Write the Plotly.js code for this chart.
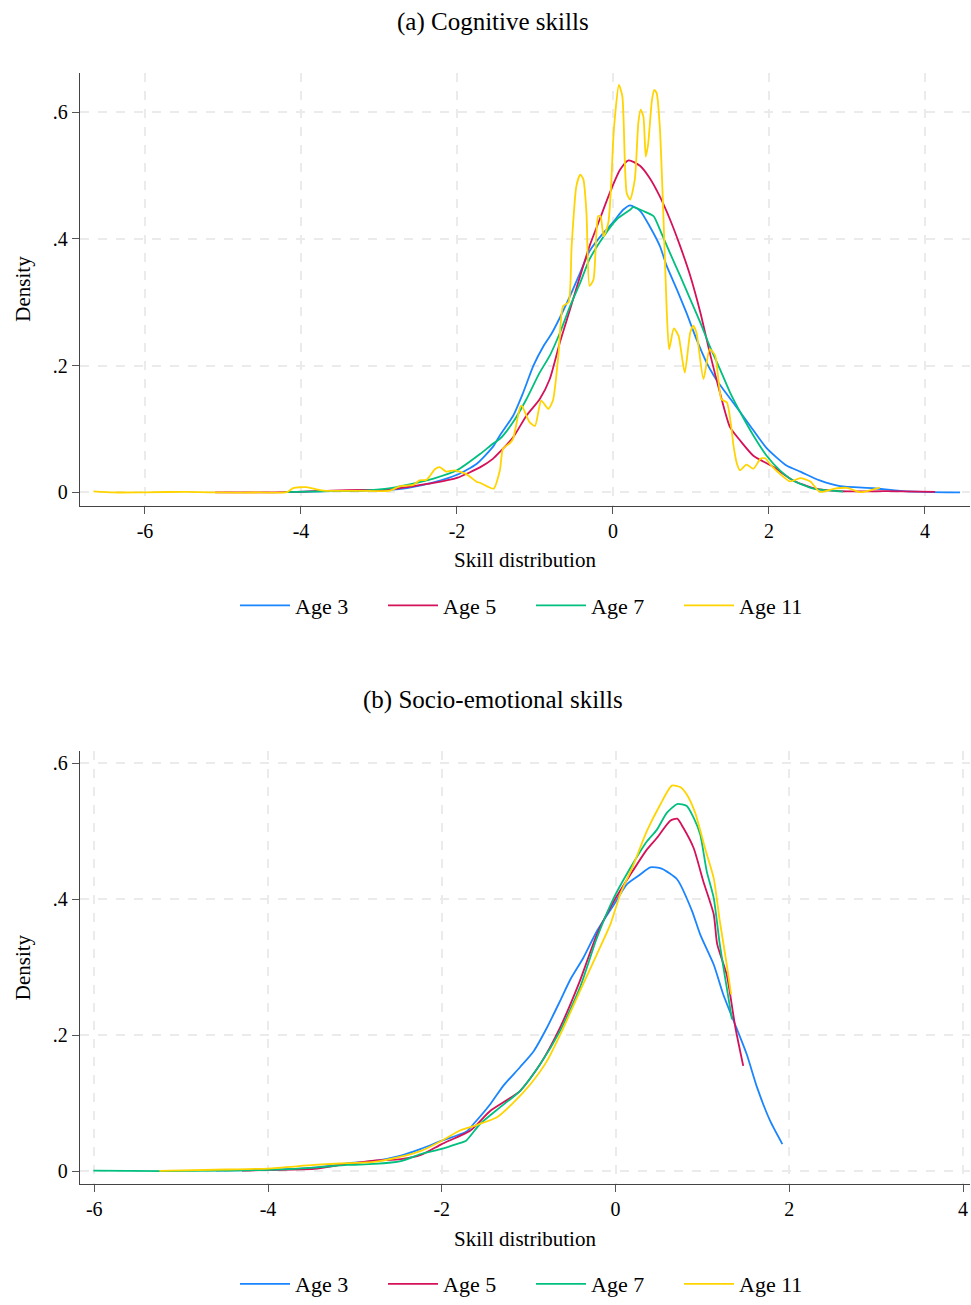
<!DOCTYPE html>
<html>
<head>
<meta charset="utf-8">
<script src="https://cdn.plot.ly/plotly-3.0.1.min.js"></script>
<style>
  html, body { margin: 0; padding: 0; background: #ffffff; }
  #chart { width: 971px; height: 1305px; }
</style>
</head>
<body>
<div id="chart"></div>
<script>
// Kernel density estimates of skill scores by age

const seriesNames = ['Age 3', 'Age 5', 'Age 7', 'Age 11'];
const seriesColors = ['#1a85ff', '#d41159', '#00bf7f', '#ffd400'];

// (a) Cognitive skills
const cogX3 = [-4.2, -3.6, -3.2, -2.86, -2.64, -2.3, -2.0, -1.75, -1.54, -1.45, -1.28, -1.15, -1.02, -0.89, -0.79, -0.68, -0.55, -0.42, -0.3, -0.12, 0.0, 0.13, 0.22, 0.35, 0.47, 0.6, 0.69, 0.82, 0.94, 1.07, 1.2, 1.29, 1.37, 1.54, 1.63, 1.76, 1.97, 2.23, 2.4, 2.65, 2.91, 3.34, 3.68, 4.1, 4.45];
const cogY3 = [0.0005, 0.002, 0.003, 0.004, 0.007, 0.016, 0.028, 0.045, 0.072, 0.09, 0.121, 0.158, 0.2, 0.231, 0.25, 0.276, 0.31, 0.347, 0.381, 0.41, 0.426, 0.446, 0.453, 0.444, 0.42, 0.389, 0.357, 0.32, 0.284, 0.242, 0.205, 0.185, 0.17, 0.142, 0.127, 0.105, 0.07, 0.042, 0.033, 0.019, 0.01, 0.0067, 0.0025, 0.0005, 0.0002];

const cogX5 = [-5.1, -4.2, -3.6, -3.2, -2.9, -2.64, -2.3, -2.0, -1.7, -1.54, -1.45, -1.28, -1.11, -0.94, -0.81, -0.68, -0.55, -0.42, -0.3, -0.17, -0.04, 0.09, 0.2, 0.35, 0.47, 0.6, 0.73, 0.86, 0.99, 1.12, 1.24, 1.37, 1.5, 1.63, 1.8, 2.06, 2.31, 2.57, 2.91, 3.5, 4.13];
const cogY5 = [0.0, 0.0005, 0.003, 0.004, 0.004, 0.0085, 0.015, 0.023, 0.04, 0.053, 0.064, 0.087, 0.121, 0.147, 0.179, 0.237, 0.289, 0.342, 0.389, 0.431, 0.473, 0.509, 0.524, 0.515, 0.496, 0.467, 0.431, 0.389, 0.342, 0.284, 0.221, 0.158, 0.103, 0.082, 0.058, 0.04, 0.019, 0.0067, 0.002, 0.002, 0.001];

const cogX7 = [-4.2, -3.6, -3.2, -2.9, -2.64, -2.3, -2.0, -1.7, -1.54, -1.45, -1.28, -1.11, -0.94, -0.81, -0.68, -0.55, -0.42, -0.3, -0.12, 0.05, 0.22, 0.26, 0.39, 0.52, 0.6, 0.73, 0.86, 0.99, 1.12, 1.24, 1.37, 1.5, 1.63, 1.8, 1.97, 2.14, 2.31, 2.57, 2.95];
const cogY7 = [0.0005, 0.002, 0.003, 0.006, 0.012, 0.022, 0.035, 0.061, 0.077, 0.0845, 0.111, 0.147, 0.189, 0.216, 0.252, 0.294, 0.331, 0.368, 0.404, 0.431, 0.446, 0.45, 0.444, 0.436, 0.415, 0.378, 0.342, 0.305, 0.268, 0.231, 0.195, 0.158, 0.127, 0.09, 0.058, 0.035, 0.019, 0.006, 0.0015];

const cogX11 = [-6.66, -6.4, -6.0, -5.46, -5.12, -4.53, -4.18, -4.1, -3.93, -3.8, -3.71, -3.24, -2.86, -2.73, -2.56, -2.48, -2.39, -2.28, -2.22, -2.14, -2.03, -1.88, -1.75, -1.7, -1.62, -1.53, -1.45, -1.41, -1.32, -1.28, -1.19, -1.17, -1.07, -1.0, -0.92, -0.83, -0.77, -0.7, -0.64, -0.57, -0.53, -0.47, -0.42, -0.38, -0.34, -0.3, -0.25, -0.19, -0.16, -0.12, -0.06, -0.02, 0.0, 0.03, 0.075, 0.12, 0.175, 0.22, 0.28, 0.325, 0.355, 0.39, 0.42, 0.45, 0.5, 0.53, 0.56, 0.6, 0.645, 0.69, 0.72, 0.78, 0.84, 0.92, 0.99, 1.03, 1.07, 1.16, 1.24, 1.31, 1.39, 1.46, 1.52, 1.545, 1.59, 1.63, 1.71, 1.8, 1.89, 1.95, 2.03, 2.14, 2.27, 2.4, 2.53, 2.65, 2.83, 3.0, 3.17, 3.42];
const cogY11 = [0.0016, 0.0, 0.0003, 0.001, 0.0, 0.0, 0.0005, 0.007, 0.0085, 0.005, 0.003, 0.0025, 0.003, 0.01, 0.012, 0.019, 0.02, 0.037, 0.04, 0.033, 0.035, 0.029, 0.017, 0.015, 0.01, 0.006, 0.035, 0.069, 0.078, 0.085, 0.135, 0.137, 0.111, 0.105, 0.145, 0.132, 0.145, 0.216, 0.294, 0.3, 0.389, 0.483, 0.5015, 0.494, 0.441, 0.326, 0.336, 0.436, 0.436, 0.404, 0.4255, 0.494, 0.55, 0.599, 0.643, 0.625, 0.473, 0.462, 0.494, 0.583, 0.604, 0.593, 0.53, 0.549, 0.6195, 0.635, 0.63, 0.5775, 0.441, 0.284, 0.226, 0.259, 0.247, 0.189, 0.252, 0.263, 0.252, 0.179, 0.226, 0.216, 0.147, 0.142, 0.1, 0.074, 0.045, 0.035, 0.044, 0.0375, 0.053, 0.054, 0.0425, 0.0295, 0.0174, 0.0226, 0.0174, 0.001, 0.0057, 0.0073, 0.0005, 0.0078];

// (b) Socio-emotional skills
const socX3 = [-4.6, -4.0, -3.47, -3.09, -2.78, -2.47, -2.24, -2.0, -1.72, -1.635, -1.44, -1.29, -1.1, -0.94, -0.79, -0.64, -0.52, -0.37, -0.215, -0.02, 0.13, 0.28, 0.4, 0.53, 0.71, 0.88, 0.975, 1.13, 1.24, 1.36, 1.51, 1.63, 1.78, 1.92];
const socY3 = [0.001, 0.002, 0.0054, 0.0117, 0.015, 0.023, 0.033, 0.045, 0.058, 0.0695, 0.099, 0.126, 0.153, 0.177, 0.211, 0.25, 0.282, 0.314, 0.353, 0.392, 0.422, 0.436, 0.447, 0.445, 0.429, 0.383, 0.348, 0.304, 0.26, 0.221, 0.172, 0.123, 0.074, 0.04];

const socX5 = [-4.3, -4.0, -3.47, -3.09, -2.78, -2.47, -2.24, -2.0, -1.67, -1.44, -1.1, -0.87, -0.64, -0.41, -0.215, -0.02, 0.17, 0.36, 0.475, 0.63, 0.71, 0.78, 0.9, 1.01, 1.13, 1.17, 1.28, 1.38, 1.47];
const socY5 = [0.001, 0.002, 0.0034, 0.0108, 0.0157, 0.018, 0.024, 0.04, 0.06, 0.089, 0.118, 0.157, 0.211, 0.28, 0.348, 0.397, 0.436, 0.473, 0.49, 0.5155, 0.5185, 0.505, 0.475, 0.4265, 0.378, 0.334, 0.289, 0.211, 0.155];

const socX7 = [-6.01, -5.2, -4.5, -4.0, -3.47, -3.09, -2.78, -2.47, -2.24, -2.0, -1.83, -1.72, -1.56, -1.33, -1.1, -0.87, -0.64, -0.41, -0.215, -0.02, 0.17, 0.36, 0.475, 0.59, 0.71, 0.82, 0.9, 0.975, 1.05, 1.13, 1.2, 1.28, 1.34];
const socY7 = [0.001, 0.0003, 0.001, 0.002, 0.0054, 0.0093, 0.0108, 0.015, 0.0254, 0.033, 0.04, 0.045, 0.0695, 0.094, 0.118, 0.157, 0.206, 0.27, 0.343, 0.402, 0.446, 0.485, 0.502, 0.527, 0.54, 0.537, 0.5195, 0.495, 0.441, 0.402, 0.3335, 0.27, 0.2235];

const socX11 = [-5.25, -4.48, -4.0, -3.47, -3.09, -2.78, -2.47, -2.24, -2.0, -1.79, -1.6, -1.37, -1.175, -0.98, -0.79, -0.6, -0.41, -0.215, -0.06, 0.054, 0.207, 0.36, 0.514, 0.648, 0.744, 0.82, 0.917, 1.03, 1.13, 1.2, 1.28, 1.33];
const socY11 = [0.0005, 0.0026, 0.004, 0.0093, 0.012, 0.0137, 0.0215, 0.03, 0.045, 0.06, 0.068, 0.079, 0.101, 0.128, 0.162, 0.211, 0.265, 0.319, 0.363, 0.407, 0.451, 0.5, 0.539, 0.567, 0.565, 0.554, 0.527, 0.475, 0.431, 0.368, 0.304, 0.26];

// Axis ticks
const xTickVals = [-6, -4, -2, 0, 2, 4];
const xTickText = ['-6', '-4', '-2', '0', '2', '4'];
const yTickVals = [0, 0.2, 0.4, 0.6];
const yTickText = ['0', '.2', '.4', '.6'];

const panelTitles = ['(a) Cognitive skills', '(b) Socio-emotional skills'];
const xTitle = 'Skill distribution';
const yTitle = 'Density';

const FONT = 'Liberation Serif, Times New Roman, serif';
const W = 971, H = 1305;
const px = v => v / W;
const py = v => 1 - v / H;

const cogData = [[cogX3, cogY3], [cogX5, cogY5], [cogX7, cogY7], [cogX11, cogY11]];
const socData = [[socX3, socY3], [socX5, socY5], [socX7, socY7], [socX11, socY11]];

const traces = [];
cogData.forEach((d, i) => {
  traces.push({
    type: 'scatter', mode: 'lines', x: d[0], y: d[1], name: seriesNames[i],
    xaxis: 'x', yaxis: 'y', legend: 'legend',
    line: { color: seriesColors[i], width: 1.8, shape: 'spline', smoothing: 0.6 },
    hoverinfo: 'x+y+name'
  });
});
socData.forEach((d, i) => {
  traces.push({
    type: 'scatter', mode: 'lines', x: d[0], y: d[1], name: seriesNames[i],
    xaxis: 'x2', yaxis: 'y2', legend: 'legend2',
    line: { color: seriesColors[i], width: 1.8, shape: 'spline', smoothing: 0.6 },
    hoverinfo: 'x+y+name'
  });
});

function xAxis(domain, range, anchor) {
  return {
    domain: domain, range: range, anchor: anchor,
    tickmode: 'array', tickvals: xTickVals, ticktext: xTickText,
    ticks: 'outside', ticklen: 7, tickwidth: 1.3, tickcolor: '#555555',
    ticklabelstandoff: 0,
    showline: true, linecolor: '#444444', linewidth: 1.3, mirror: false,
    showgrid: true, gridcolor: '#ebebeb', gridwidth: 1.5, griddash: 'dash',
    zeroline: false,
    tickfont: { family: FONT, size: 20, color: '#000000' },
    title: { text: xTitle, font: { family: FONT, size: 21, color: '#000000' }, standoff: 11 }
  };
}
function yAxis(domain, range, anchor) {
  return {
    domain: domain, range: range, anchor: anchor,
    tickmode: 'array', tickvals: yTickVals, ticktext: yTickText,
    ticks: 'outside', ticklen: 7, tickwidth: 1.3, tickcolor: '#555555',
    showline: true, linecolor: '#444444', linewidth: 1.3, mirror: false,
    showgrid: true, gridcolor: '#ebebeb', gridwidth: 1.5, griddash: 'dash',
    zeroline: false,
    tickfont: { family: FONT, size: 20, color: '#000000' },
    title: { text: yTitle, font: { family: FONT, size: 21, color: '#000000' }, standoff: 16 }
  };
}

function legendBox(yCenter) {
  return {
    orientation: 'h', x: px(531), xanchor: 'center', y: py(yCenter), yanchor: 'middle',
    xref: 'paper', yref: 'paper',
    font: { family: FONT, size: 22, color: '#000000' },
    bgcolor: 'rgba(0,0,0,0)', borderwidth: 0,
    itemwidth: 50, entrywidth: 83, entrywidthmode: 'pixels',
    traceorder: 'normal'
  };
}

const layout = {
  width: W, height: H,
  margin: { l: 0, r: 0, t: 0, b: 0, pad: 0 },
  paper_bgcolor: '#ffffff', plot_bgcolor: '#ffffff',
  font: { family: FONT, color: '#000000' },
  showlegend: true,
  xaxis: xAxis([px(80), px(970)], [-6.833, 4.577], 'y'),
  yaxis: yAxis([py(506.7), py(72.7)], [-0.0206, 0.6625], 'x'),
  xaxis2: xAxis([px(80), px(970)], [-6.164, 4.08], 'y2'),
  yaxis2: yAxis([py(1187), py(752.7)], [-0.0191, 0.618], 'x2'),
  legend: legendBox(607),
  legend2: legendBox(1287),
  annotations: [
    { text: panelTitles[0], xref: 'paper', yref: 'paper', x: px(493), y: py(22),
      xanchor: 'center', yanchor: 'middle', showarrow: false,
      font: { family: FONT, size: 25, color: '#000000' } },
    { text: panelTitles[1], xref: 'paper', yref: 'paper', x: px(493), y: py(702),
      xanchor: 'center', yanchor: 'middle', showarrow: false,
      font: { family: FONT, size: 25, color: '#000000' } }
  ]
};

Plotly.newPlot('chart', traces, layout, { displayModeBar: false, staticPlot: false });
</script>
</body>
</html>
